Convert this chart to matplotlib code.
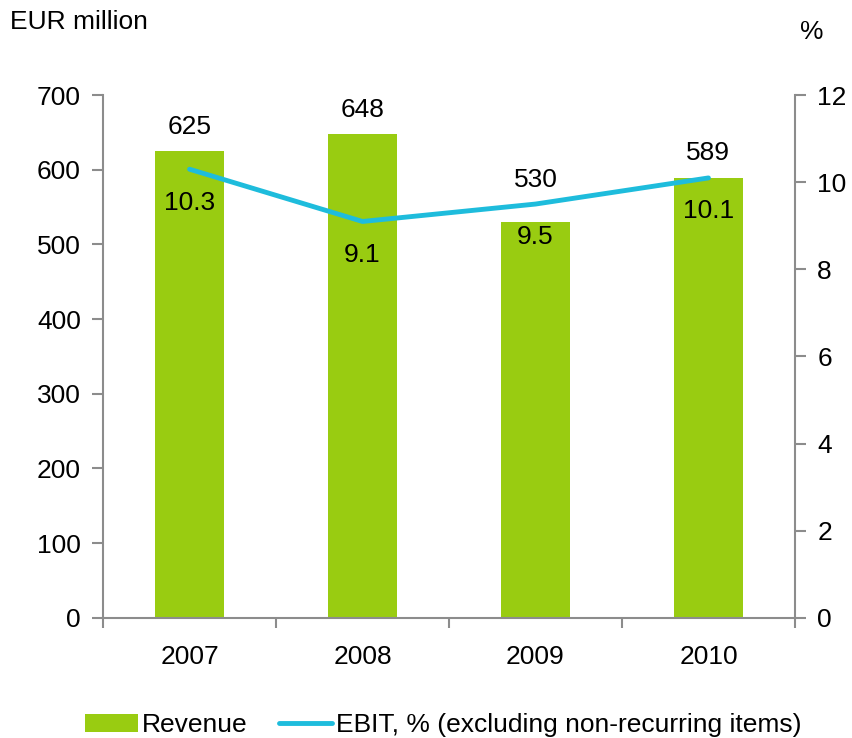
import numpy as np
import matplotlib.pyplot as plt

plt.rcParams['font.family'] = ['Liberation Sans', 'DejaVu Sans']

years = ['2007', '2008', '2009', '2010']
revenue = [625, 648, 530, 589]
ebit_pct = [10.3, 9.1, 9.5, 10.1]

bar_color = '#99CC11'
line_color = '#1EBCDC'
axis_color = '#8C8C8C'
fs = 19

fig = plt.figure(figsize=(8.52, 7.38), dpi=100)
ax = fig.add_axes([0.121, 0.163, 0.812, 0.708])
ax2 = ax.twinx()

x = np.arange(len(years))
ax.bar(x, revenue, width=0.4, color=bar_color, label='Revenue', zorder=2)
ax2.plot(x, ebit_pct, color=line_color, lw=3.5, solid_capstyle='round',
         label='EBIT, % (excluding non-recurring items)', zorder=3)

ax.set_xlim(-0.5, len(years) - 0.5)
ax.set_ylim(0, 700)
ax2.set_ylim(0, 12)

# revenue labels go above whichever is higher: bar top or the line
for xi, v, p in zip(x, revenue, ebit_pct):
    top = max(v / 700, p / 12)
    ax.annotate(str(v), (xi, top), xycoords=('data', 'axes fraction'),
                xytext=(0, 9), textcoords='offset points',
                ha='center', va='bottom', fontsize=fs)
for xi, v in zip(x, ebit_pct):
    ax2.annotate(f'{v:.1f}', (xi, v), xytext=(0, -24), textcoords='offset points',
                 ha='center', va='center', fontsize=fs)

ax.set_yticks(range(0, 701, 100))
ax2.set_yticks(range(0, 13, 2))

# category ticks sit on the boundaries, labels in the middle
ax.set_xticks(np.arange(-0.5, len(years), 1.0))
ax.set_xticklabels([])
ax.set_xticks(x, minor=True)
ax.set_xticklabels(years, minor=True)
ax.tick_params(axis='x', which='minor', length=0, pad=20, labelsize=fs)
ax.tick_params(axis='x', which='major', length=7, width=1.5, color=axis_color)

for a in (ax, ax2):
    for s in a.spines.values():
        s.set_visible(False)
ax.spines['left'].set_visible(True)
ax.spines['bottom'].set_visible(True)
ax2.spines['right'].set_visible(True)
for s in (ax.spines['left'], ax.spines['bottom'], ax2.spines['right']):
    s.set_color(axis_color)
    s.set_linewidth(1.5)

ax.tick_params(axis='y', length=8, width=1.5, color=axis_color, labelsize=fs, pad=8)
ax2.tick_params(axis='y', length=8, width=1.5, color=axis_color, labelsize=fs, pad=8)

fig.text(0.012, 0.97, 'EUR million', fontsize=fs, ha='left', va='center')
fig.text(0.953, 0.956, '%', fontsize=fs, ha='center', va='center')

h1, l1 = ax.get_legend_handles_labels()
h2, l2 = ax2.get_legend_handles_labels()
fig.legend(h1 + h2, l1 + l2, loc='center', bbox_to_anchor=(0.52, 0.017), ncol=2,
           frameon=False, fontsize=fs, handlelength=2.0, handletextpad=0.15,
           columnspacing=1.2)

fig.savefig('out.png', dpi=100)
